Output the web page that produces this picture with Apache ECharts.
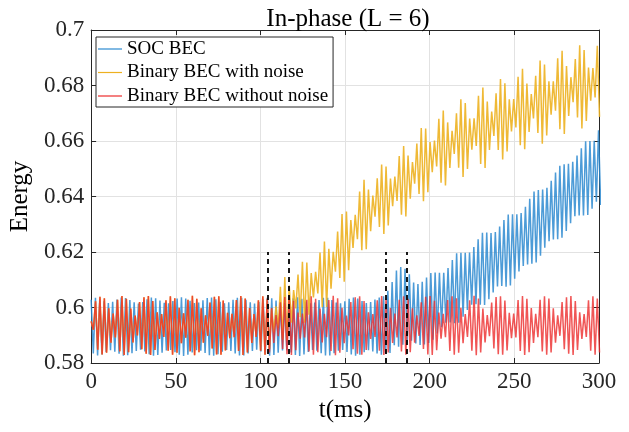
<!DOCTYPE html>
<html>
<head>
<meta charset="utf-8">
<script src="https://cdn.jsdelivr.net/npm/echarts@6/dist/echarts.min.js"></script>
<style>html,body{margin:0;padding:0;background:#fff}#c{width:629px;height:432px}</style>
</head>
<body>
<div id="c"></div>
<script>
// ---- data ----
const seriesNames = ['SOC BEC', 'Binary BEC with noise', 'Binary BEC without noise'];
const xTicks = [0, 50, 100, 150, 200, 250, 300];
const yTicks = [0.58, 0.6, 0.62, 0.64, 0.66, 0.68, 0.7];
// half-period sampling steps (ms): one peak and one trough per oscillation
const socHalfStep = 1.27;
const binHalfStep = 1.3;
// SOC BEC peaks / troughs per oscillation cycle
const socHi = [
0.6028,0.6035,0.6031,0.6022,0.6016,0.6021,0.6029,0.6036,
0.6034,0.6027,0.6019,0.6014,0.6020,0.6030,0.6036,0.6033,
0.6025,0.6017,0.6015,0.6023,0.6032,0.6037,0.6032,0.6024,
0.6016,0.6018,0.6026,0.6034,0.6036,0.6030,0.6021,0.6015,
0.6019,0.6028,0.6035,0.6035,0.6028,0.6019,0.6014,0.6020,
0.6030,0.6036,0.6033,0.6025,0.6017,0.6016,0.6024,0.6033,
0.6037,0.6031,0.6022,0.6015,0.6018,0.6027,0.6035,0.6035,
0.6027,0.6018,0.6015,0.6022,0.6031,0.6036,0.6032,0.6023,
0.6016,0.6020,0.6029,0.6036,0.6040,
0.6060,0.6092,0.6133,0.6146,0.6140,0.6120,0.6090,0.6085,0.6093,0.6108,
0.6124,0.6126,0.6125,0.6125,0.6142,0.6171,0.6195,0.6197,0.6197,0.6198,
0.6218,0.6246,0.6269,0.6270,0.6268,0.6272,0.6292,0.6315,0.6335,0.6336,
0.6336,0.6340,0.6363,0.6392,0.6418,0.6423,0.6425,0.6431,0.6457,0.6486,
0.6511,0.6516,0.6518,0.6525,0.6548,0.6574,0.6599,0.6600,0.6601,0.6639];
const socLo = [
0.5834,0.5827,0.5831,0.5840,0.5846,0.5841,0.5833,0.5826,
0.5828,0.5835,0.5843,0.5848,0.5842,0.5832,0.5826,0.5829,
0.5837,0.5845,0.5847,0.5839,0.5830,0.5825,0.5830,0.5838,
0.5846,0.5844,0.5836,0.5828,0.5826,0.5832,0.5841,0.5847,
0.5843,0.5834,0.5827,0.5827,0.5834,0.5843,0.5848,0.5842,
0.5832,0.5826,0.5829,0.5837,0.5845,0.5846,0.5838,0.5829,
0.5825,0.5831,0.5840,0.5847,0.5844,0.5835,0.5827,0.5827,
0.5835,0.5844,0.5847,0.5840,0.5831,0.5826,0.5830,0.5839,
0.5846,0.5842,0.5834,0.5830,0.5833,
0.5836,0.5864,0.5859,0.5866,0.5870,0.5880,0.5870,0.5865,0.5867,0.5872,
0.5884,0.5906,0.5929,0.5945,0.5946,0.5943,0.5945,0.5967,0.5991,0.6010,
0.6012,0.6010,0.6009,0.6030,0.6054,0.6076,0.6078,0.6075,0.6079,0.6104,
0.6130,0.6150,0.6155,0.6158,0.6162,0.6187,0.6215,0.6239,0.6245,0.6246,
0.6251,0.6276,0.6304,0.6329,0.6332,0.6332,0.6333,0.6356,0.6381,0.6369];
// Binary BEC without noise peaks / troughs
const binHi = [
0.5950,0.6022,0.6039,0.6033,0.5997,
0.5978,0.6028,0.6041,0.6031,0.5996,
0.5971,0.6020,0.6037,0.6041,0.6023,0.5983,
0.5976,0.6026,0.6040,0.6033,0.5999,
0.5979,0.6028,0.6042,0.6031,0.5997,
0.5972,0.6018,0.6039,0.6040,0.6025,0.5981,
0.5977,0.6027,0.6041,0.6032,0.5998,
0.5976,0.6026,0.6040,0.6032,0.5998,
0.5973,0.6019,0.6038,0.6041,0.6024,0.5982,
0.5978,0.6028,0.6040,0.6031,0.5996,
0.5977,0.6027,0.6042,0.6033,0.5999,
0.5971,0.6020,0.6037,0.6040,0.6023,0.5983,
0.5976,0.6026,0.6041,0.6032,0.5998,
0.5978,0.6028,0.6040,0.6031,0.5997,
0.5972,0.6019,0.6039,0.6041,0.6024,0.5982,
0.5977,0.6027,0.6040,0.6033,0.5999,
0.5976,0.6026,0.6042,0.6032,0.5996,
0.5973,0.6018,0.6038,0.6040,0.6025,0.5981,
0.5978,0.6027,0.6041,0.6031,0.5998,
0.5977,0.6028,0.6040,0.6032,0.5997,
0.5972,0.6020,0.6037,0.6041,0.6023,0.5983,
0.5976,0.6026,0.6040,0.6032];
const binLo = [
0.5920,0.5848,0.5831,0.5837,0.5873,
0.5892,0.5842,0.5829,0.5839,0.5874,
0.5899,0.5850,0.5833,0.5829,0.5847,0.5887,
0.5894,0.5844,0.5830,0.5837,0.5871,
0.5891,0.5842,0.5828,0.5839,0.5873,
0.5898,0.5852,0.5831,0.5830,0.5845,0.5889,
0.5893,0.5843,0.5829,0.5838,0.5872,
0.5894,0.5844,0.5830,0.5838,0.5872,
0.5897,0.5851,0.5832,0.5829,0.5846,0.5888,
0.5892,0.5842,0.5830,0.5839,0.5874,
0.5893,0.5843,0.5828,0.5837,0.5871,
0.5899,0.5850,0.5833,0.5830,0.5847,0.5887,
0.5894,0.5844,0.5829,0.5838,0.5872,
0.5892,0.5842,0.5830,0.5839,0.5873,
0.5898,0.5851,0.5831,0.5829,0.5846,0.5888,
0.5893,0.5843,0.5830,0.5837,0.5871,
0.5894,0.5844,0.5828,0.5838,0.5874,
0.5897,0.5852,0.5832,0.5830,0.5845,0.5889,
0.5892,0.5843,0.5829,0.5839,0.5872,
0.5893,0.5842,0.5830,0.5838,0.5873,
0.5898,0.5850,0.5833,0.5829,0.5847,0.5887,
0.5894,0.5844,0.5830,0.5838];
// Binary BEC with noise: identical to the noiseless run until cycle 40 (~104 ms), then these
const noiseStartCycle = 40;
const noiseHi = [
0.6029,0.5995,0.6004,0.6075,0.6110,0.6079,0.6063,0.6119,0.6165,0.6162,
0.6124,0.6129,0.6198,0.6238,0.6212,0.6201,0.6274,0.6337,0.6346,0.6315,
0.6334,0.6418,0.6460,0.6425,0.6403,0.6466,0.6515,0.6508,0.6465,0.6472,
0.6546,0.6582,0.6548,0.6524,0.6591,0.6647,0.6645,0.6596,0.6602,0.6680,
0.6710,0.6667,0.6637,0.6700,0.6750,0.6737,0.6681,0.6682,0.6763,0.6793,
0.6742,0.6706,0.6772,0.6823,0.6808,0.6750,0.6751,0.6831,0.6860,0.6807,
0.6769,0.6835,0.6890,0.6876,0.6815,0.6815,0.6898,0.6925,0.6870,0.6830,
0.6895,0.6945,0.6928,0.6865,0.6863,0.6943];
const noiseLo = [
0.5851,0.5909,0.5926,0.5885,0.5880,0.5945,0.5997,0.5965,0.5945,0.5974,
0.6036,0.6051,0.6002,0.6002,0.6068,0.6129,0.6106,0.6093,0.6134,0.6215,
0.6246,0.6206,0.6210,0.6275,0.6327,0.6290,0.6265,0.6296,0.6365,0.6384,
0.6334,0.6328,0.6392,0.6446,0.6409,0.6383,0.6415,0.6488,0.6508,0.6450,
0.6440,0.6503,0.6553,0.6504,0.6470,0.6499,0.6569,0.6582,0.6517,0.6503,
0.6568,0.6618,0.6568,0.6533,0.6562,0.6634,0.6649,0.6585,0.6570,0.6633,
0.6681,0.6629,0.6590,0.6620,0.6695,0.6709,0.6642,0.6625,0.6690,0.6740,
0.6685,0.6645,0.6672,0.6745,0.6757,0.6687];
// dashed markers (ms) and their top (energy)
const dashTimes = [104.5, 116.5, 174, 186.5];
const dashTop = 0.62;

// ---- build series ----
function pairs(hi, lo, half, k0) {
  const out = [];
  for (let k = 0; k < hi.length; k++) {
    out.push([2 * (k + k0) * half, hi[k]]);
    out.push([(2 * (k + k0) + 1) * half, lo[k]]);
  }
  return out;
}
const socData = pairs(socHi, socLo, socHalfStep, 0);
const binData = pairs(binHi, binLo, binHalfStep, 0);
const noiseData = pairs(binHi.slice(0, noiseStartCycle), binLo.slice(0, noiseStartCycle), binHalfStep, 0)
  .concat(pairs(noiseHi, noiseLo, binHalfStep, noiseStartCycle));

const FONT = '"Liberation Serif", "Times New Roman", serif';
const colors = ['#2d8ad0', '#EDB120', '#EC2A2A'];
const chart = echarts.init(document.getElementById('c'), null, { renderer: 'canvas' });
const axCommon = {
  axisLine: { show: true, onZero: false, lineStyle: { color: '#262626', width: 1 } },
  axisTick: { show: true, inside: true, length: 5, lineStyle: { color: '#262626' } }
};
chart.setOption({
  animation: false,
  backgroundColor: '#fff',
  title: {
    text: 'In-phase (L = 6)', left: 343, top: 2, textAlign: 'center',
    textStyle: { fontFamily: FONT, fontSize: 25, fontWeight: 'normal', color: '#000' }
  },
  legend: {
    data: seriesNames, orient: 'vertical', left: 96, top: 37,
    icon: 'rect', itemWidth: 24, itemHeight: 1.2, itemGap: 3.5,
    padding: [2, 5, 1, 2],
    backgroundColor: '#fff', borderColor: '#262626', borderWidth: 1, borderRadius: 0,
    textStyle: { fontFamily: FONT, fontSize: 19, color: '#000', lineHeight: 20 }
  },
  grid: { left: 88, right: 30, top: 30, bottom: 69, containLabel: false },
  xAxis: [
    Object.assign({
      type: 'value', min: xTicks[0], max: xTicks[xTicks.length - 1], interval: 50,
      name: 't(ms)', nameLocation: 'middle', nameGap: 30,
      nameTextStyle: { fontFamily: FONT, fontSize: 25, color: '#000' },
      axisLabel: { fontFamily: FONT, fontSize: 23, color: '#262626', margin: 7 },
      splitLine: { show: true, lineStyle: { color: '#e2e2e2', width: 1 } }
    }, axCommon),
    Object.assign({
      type: 'value', position: 'top', min: 0, max: 300, interval: 50,
      axisLabel: { show: false }, splitLine: { show: false }
    }, axCommon)
  ],
  yAxis: [
    Object.assign({
      type: 'value', min: yTicks[0], max: yTicks[yTicks.length - 1], interval: 0.02,
      name: 'Energy', nameLocation: 'middle', nameGap: 48,
      nameTextStyle: { fontFamily: FONT, fontSize: 25, color: '#000' },
      axisLabel: { fontFamily: FONT, fontSize: 23, color: '#262626', margin: 7,
        formatter: v => String(+v.toFixed(2)) },
      splitLine: { show: true, lineStyle: { color: '#e2e2e2', width: 1 } }
    }, axCommon),
    Object.assign({
      type: 'value', position: 'right', min: 0.58, max: 0.7, interval: 0.02,
      axisLabel: { show: false }, splitLine: { show: false }
    }, axCommon)
  ],
  series: [
    { name: seriesNames[0], type: 'line', data: socData, symbol: 'none', color: colors[0],
      lineStyle: { width: 1.5, color: colors[0], opacity: 0.85 }, clip: true },
    { name: seriesNames[1], type: 'line', data: noiseData, symbol: 'none', color: colors[1],
      lineStyle: { width: 1.5, color: colors[1], opacity: 0.9 }, clip: true },
    { name: seriesNames[2], type: 'line', data: binData, symbol: 'none', color: colors[2],
      lineStyle: { width: 1.5, color: colors[2], opacity: 0.8 }, clip: true,
      markLine: {
        silent: true, symbol: 'none', animation: false,
        label: { show: false },
        lineStyle: { color: '#000', width: 1.8, type: [5, 4] },
        data: dashTimes.map(t => [{ coord: [t, yTicks[0]] }, { coord: [t, dashTop] }])
      }
    }
  ]
});
</script>
</body>
</html>
